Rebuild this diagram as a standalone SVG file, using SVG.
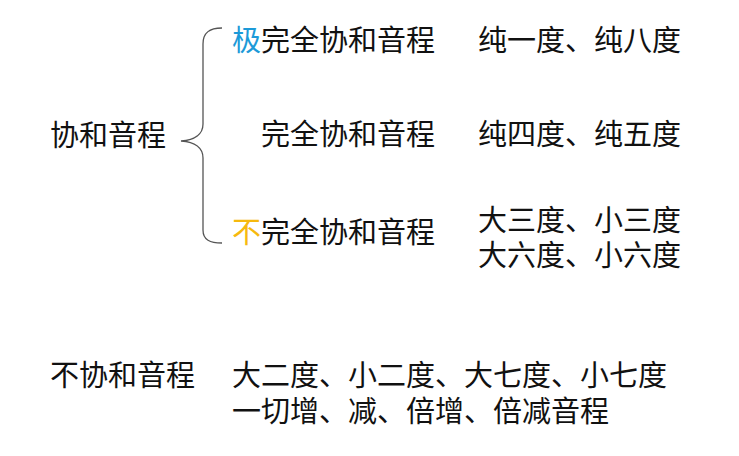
<svg xmlns="http://www.w3.org/2000/svg" width="739" height="456" viewBox="0 0 739 456">
<style>
text{font-family:"Noto Sans CJK SC","Microsoft YaHei",sans-serif;font-size:29px;fill:#111}
.blue{fill:#1c9ad8}
.yellow{fill:#f6b90e}
.brace{fill:none;stroke:#555;stroke-width:1.3}
</style>
<rect width="739" height="456" fill="#fff"/>
<g id="connectors">
<path class="brace" d="M222,28 C210,28 203,32 203,44 L203,124 C203,134 195,140 181,141 C195,142 203,148 203,158 L203,230 C203,240 210,243 222,243"/>
</g>
<g id="consonant"><text x="50" y="146">协和音程</text></g>
<g id="perfect-extreme"><text x="232" y="51"><tspan class="blue">极</tspan>完全协和音程</text></g>
<g id="perfect-extreme-list"><text x="478" y="51">纯一度、纯八度</text></g>
<g id="perfect"><text x="261" y="145">完全协和音程</text></g>
<g id="perfect-list"><text x="478" y="145">纯四度、纯五度</text></g>
<g id="imperfect"><text x="232" y="243"><tspan class="yellow">不</tspan>完全协和音程</text></g>
<g id="imperfect-list"><text x="478" y="231">大三度、小三度</text><text x="478" y="266">大六度、小六度</text></g>
<g id="dissonant"><text x="50" y="386">不协和音程</text></g>
<g id="dissonant-list"><text x="232" y="386">大二度、小二度、大七度、小七度</text><text x="232" y="422">一切增、减、倍增、倍减音程</text></g>
</svg>
